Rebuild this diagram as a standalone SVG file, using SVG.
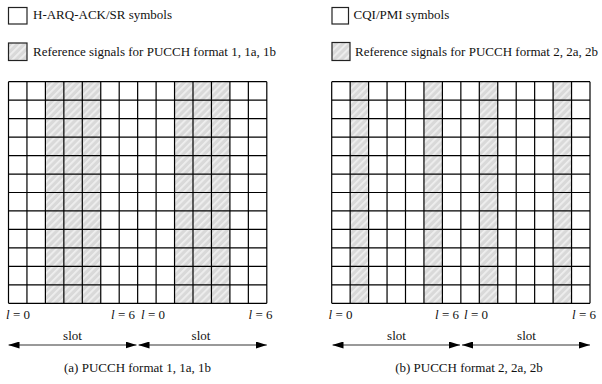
<svg xmlns="http://www.w3.org/2000/svg" width="602" height="384" viewBox="0 0 602 384">
<style>
text{font-family:"Liberation Serif","Times New Roman",serif;font-size:13px;fill:#111}
.it{font-style:italic}
.grid{fill:none;stroke:#000;stroke-width:1.2}
.box{fill:#fff;stroke:#222;stroke-width:1.2}
.hbox{fill:url(#hatch);stroke:#222;stroke-width:1.2}
.rs{fill:url(#hatch);stroke:none}
.arr{stroke:#777;stroke-width:1.5;fill:none;marker-start:url(#ah);marker-end:url(#ah)}
</style>
<defs>
<pattern id="hatch" patternUnits="userSpaceOnUse" width="5" height="5" patternTransform="rotate(45)">
<rect width="5" height="5" fill="#d9d9d9"/>
<rect x="0" y="0" width="1.8" height="5" fill="#efefef"/>
</pattern>
<marker id="ah" viewBox="0 0 11 7" refX="11" refY="3.5" markerWidth="11" markerHeight="7" markerUnits="userSpaceOnUse" orient="auto-start-reverse">
<path d="M0,0 L11,3.5 L0,7 Z" fill="#000"/>
</marker>
</defs>

<g id="legend-left">
<rect class="box" x="8.5" y="7.5" width="18.5" height="16.5"/>
<text x="33" y="19">H-ARQ-ACK/SR symbols</text>
<rect class="hbox" x="8.5" y="43" width="18.5" height="17.5"/>
<text x="33" y="56">Reference signals for PUCCH format 1, 1a, 1b</text>
</g>

<g id="legend-right">
<rect class="box" x="332" y="7.5" width="16.5" height="16.5"/>
<text x="353.5" y="19">CQI/PMI symbols</text>
<rect class="hbox" x="332" y="42.5" width="18" height="18"/>
<text x="355" y="56">Reference signals for PUCCH format 2, 2a, 2b</text>
</g>

<g id="grid-a">
<rect class="rs" x="45.4" y="81.7" width="55.35" height="221.6"/>
<rect class="rs" x="174.55" y="81.7" width="55.35" height="221.6"/>
<path class="grid" d="M8.5,81.7V303.3M26.95,81.7V303.3M45.4,81.7V303.3M63.85,81.7V303.3M82.3,81.7V303.3M100.75,81.7V303.3M119.2,81.7V303.3M137.65,81.7V303.3M156.1,81.7V303.3M174.55,81.7V303.3M193,81.7V303.3M211.45,81.7V303.3M229.9,81.7V303.3M248.35,81.7V303.3M266.8,81.7V303.3
M8.5,81.7H266.8M8.5,100.17H266.8M8.5,118.63H266.8M8.5,137.1H266.8M8.5,155.57H266.8M8.5,174.03H266.8M8.5,192.5H266.8M8.5,210.97H266.8M8.5,229.43H266.8M8.5,247.9H266.8M8.5,266.37H266.8M8.5,284.83H266.8M8.5,303.3H266.8"/>
</g>

<g id="grid-b">
<rect class="rs" x="350.15" y="81.7" width="18.45" height="221.6"/>
<rect class="rs" x="423.95" y="81.7" width="18.45" height="221.6"/>
<rect class="rs" x="479.3" y="81.7" width="18.45" height="221.6"/>
<rect class="rs" x="553.1" y="81.7" width="18.45" height="221.6"/>
<path class="grid" d="M331.7,81.7V303.3M350.15,81.7V303.3M368.6,81.7V303.3M387.05,81.7V303.3M405.5,81.7V303.3M423.95,81.7V303.3M442.4,81.7V303.3M460.85,81.7V303.3M479.3,81.7V303.3M497.75,81.7V303.3M516.2,81.7V303.3M534.65,81.7V303.3M553.1,81.7V303.3M571.55,81.7V303.3M590,81.7V303.3
M331.7,81.7H590M331.7,100.17H590M331.7,118.63H590M331.7,137.1H590M331.7,155.57H590M331.7,174.03H590M331.7,192.5H590M331.7,210.97H590M331.7,229.43H590M331.7,247.9H590M331.7,266.37H590M331.7,284.83H590M331.7,303.3H590"/>
</g>

<g id="labels-a">
<text x="6" y="319"><tspan class="it">l</tspan> = 0</text>
<text x="111" y="319"><tspan class="it">l</tspan> = 6</text>
<text x="141" y="319"><tspan class="it">l</tspan> = 0</text>
<text x="248.5" y="319"><tspan class="it">l</tspan> = 6</text>
<text x="72.5" y="340" text-anchor="middle">slot</text>
<text x="201" y="340" text-anchor="middle">slot</text>
<text x="137.5" y="372" text-anchor="middle">(a) PUCCH format 1, 1a, 1b</text>
</g>

<g id="labels-b">
<text x="328.5" y="319"><tspan class="it">l</tspan> = 0</text>
<text x="435" y="319"><tspan class="it">l</tspan> = 6</text>
<text x="464" y="319"><tspan class="it">l</tspan> = 0</text>
<text x="572" y="319"><tspan class="it">l</tspan> = 6</text>
<text x="396.5" y="340" text-anchor="middle">slot</text>
<text x="526.5" y="340" text-anchor="middle">slot</text>
<text x="469" y="372" text-anchor="middle">(b) PUCCH format 2, 2a, 2b</text>
</g>

<g id="connectors">
<path class="arr" d="M8.5,345H136.5"/>
<path class="arr" d="M138.5,345H266.8"/>
<path class="arr" d="M332.5,345H460"/>
<path class="arr" d="M462,345H590"/>
</g>
</svg>
